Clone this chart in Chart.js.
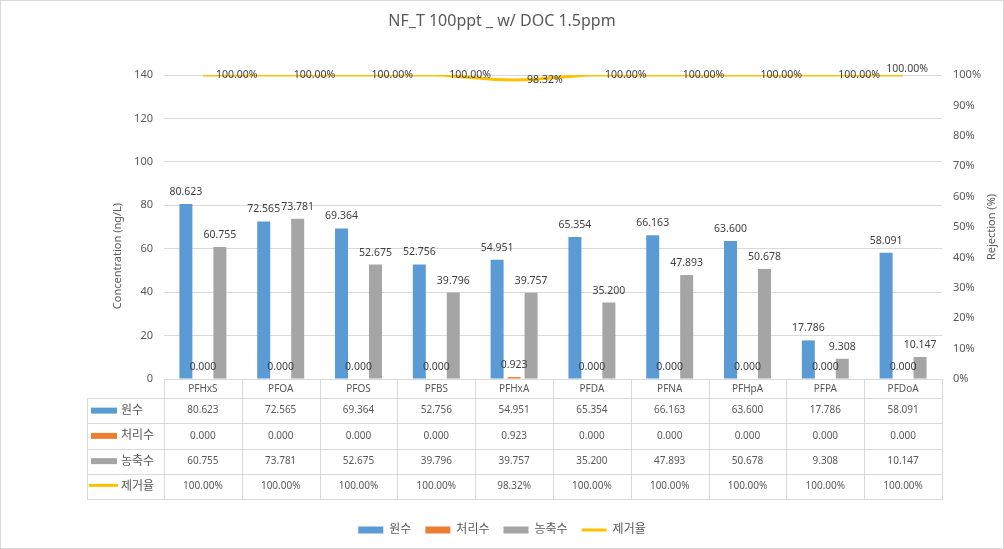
<!DOCTYPE html>
<html><head><meta charset="utf-8">
<script src="https://cdn.jsdelivr.net/npm/chart.js@4.4.0/dist/chart.umd.min.js"></script>
<style>
html,body{margin:0;padding:0;background:#fff;}
canvas{display:block}
</style></head><body>
<canvas id="c" width="1004" height="549"></canvas>
<script>
const categories = ['PFHxS','PFOA','PFOS','PFBS','PFHxA','PFDA','PFNA','PFHpA','PFPA','PFDoA'];
const rawWater = [80.623,72.565,69.364,52.756,54.951,65.354,66.163,63.600,17.786,58.091];
const treatedWater = [0.000,0.000,0.000,0.000,0.923,0.000,0.000,0.000,0.000,0.000];
const concentrate = [60.755,73.781,52.675,39.796,39.757,35.200,47.893,50.678,9.308,10.147];
const rejection = [100.00,100.00,100.00,100.00,98.32,100.00,100.00,100.00,100.00,100.00];
const seriesNames = ['원수','처리수','농축수','제거율'];
const chartTitle = 'NF_T 100ppt _ w/ DOC 1.5ppm';
const leftAxisTitle = 'Concentration (ng/L)';
const rightAxisTitle = 'Rejection (%)';

const FONT = "'Noto Sans', 'Noto Sans CJK KR', sans-serif";
const COLORS = ['#5B9BD5','#ED7D31','#A5A5A5','#FFC000'];
const TXT = '#595959';
const GRID = '#d9d9d9';

const overlay = {
  id: 'overlay',
  afterDatasetsDraw(chart) {
    const ctx = chart.ctx;
    ctx.save();
    ctx.font = '10.5px ' + FONT;
    ctx.fillStyle = '#404040';
    ctx.textBaseline = 'middle';
    ctx.textAlign = 'center';
    [0,1,2].forEach(di => {
      const meta = chart.getDatasetMeta(di);
      const data = chart.data.datasets[di].data;
      meta.data.forEach((bar, i) => {
        ctx.fillText(data[i].toFixed(3), bar.x, bar.y - 12);
      });
    });
    const lm = chart.getDatasetMeta(3);
    lm.data.forEach((pt, i) => {
      const txt = rejection[i].toFixed(2) + '%';
      if (i === lm.data.length - 1) {
        ctx.textAlign = 'center';
        ctx.fillText(txt, pt.x + 4, pt.y - 6);
      } else {
        ctx.textAlign = 'left';
        ctx.fillText(txt, pt.x + 13, pt.y);
      }
    });
    ctx.restore();
  },
  afterDraw(chart) {
    const ctx = chart.ctx;
    const area = chart.chartArea;
    const n = categories.length;
    const colW = (area.right - area.left) / n;
    const headerBottom = area.bottom + 19;
    const rowH = 25.25;
    const tableLeft = 87;
    const tableBottom = headerBottom + rowH * 4;
    ctx.save();
    ctx.strokeStyle = GRID;
    ctx.lineWidth = 1;
    ctx.beginPath();
    for (let k = 0; k <= n; k++) {
      const x = Math.round(area.left + k * colW) + 0.5;
      ctx.moveTo(x, area.bottom);
      ctx.lineTo(x, tableBottom);
    }
    ctx.moveTo(tableLeft + 0.5, headerBottom);
    ctx.lineTo(tableLeft + 0.5, tableBottom);
    for (let j = 0; j <= 4; j++) {
      const y = Math.round(headerBottom + j * rowH) + 0.5;
      ctx.moveTo(tableLeft, y);
      ctx.lineTo(Math.round(area.right) + 1, y);
    }
    ctx.stroke();

    const rows = [
      rawWater.map(v => v.toFixed(3)),
      treatedWater.map(v => v.toFixed(3)),
      concentrate.map(v => v.toFixed(3)),
      rejection.map(v => v.toFixed(2) + '%')
    ];
    ctx.textBaseline = 'middle';
    rows.forEach((row, r) => {
      const cy = headerBottom + rowH * r + rowH / 2;
      ctx.font = '10px ' + FONT;
      ctx.fillStyle = TXT;
      ctx.textAlign = 'center';
      row.forEach((t, i) => {
        ctx.fillText(t, area.left + (i + 0.5) * colW, cy);
      });
      if (r < 3) {
        ctx.fillStyle = COLORS[r];
        ctx.fillRect(91, cy - 3, 26, 6);
      } else {
        ctx.strokeStyle = COLORS[3];
        ctx.lineWidth = 3;
        ctx.beginPath();
        ctx.moveTo(89, cy - 1);
        ctx.lineTo(118, cy - 1);
        ctx.stroke();
      }
      ctx.font = '12px ' + FONT;
      ctx.fillStyle = TXT;
      ctx.textAlign = 'left';
      ctx.fillText(seriesNames[r], 121, cy);
    });

    ctx.font = '11px ' + FONT;
    ctx.fillStyle = TXT;
    ctx.textAlign = 'center';
    ctx.save();
    ctx.translate(118, 256);
    ctx.rotate(-Math.PI / 2);
    ctx.fillText(leftAxisTitle, 0, 0);
    ctx.restore();
    ctx.save();
    ctx.translate(992, 227);
    ctx.rotate(-Math.PI / 2);
    ctx.fillText(rightAxisTitle, 0, 0);
    ctx.restore();

    ctx.strokeStyle = GRID;
    ctx.lineWidth = 1;
    ctx.strokeRect(0.5, 0.5, chart.width - 1, chart.height - 1);
    ctx.restore();
  }
};

new Chart(document.getElementById('c'), {
  type: 'bar',
  data: {
    labels: categories,
    datasets: [
      { label: seriesNames[0], data: rawWater, backgroundColor: COLORS[0], borderWidth: 0, yAxisID: 'y', pointStyle: 'rect', order: 1 },
      { label: seriesNames[1], data: treatedWater, backgroundColor: COLORS[1], borderWidth: 0, yAxisID: 'y', pointStyle: 'rect', order: 1 },
      { label: seriesNames[2], data: concentrate, backgroundColor: COLORS[2], borderWidth: 0, yAxisID: 'y', pointStyle: 'rect', order: 1 },
      { label: seriesNames[3], data: rejection, type: 'line', borderColor: COLORS[3], backgroundColor: COLORS[3], borderWidth: 3, tension: 0.4, pointRadius: 0, pointStyle: 'line', yAxisID: 'y2', order: 0 }
    ]
  },
  options: {
    responsive: false,
    animation: false,
    layout: { padding: { left: 0, right: 0, top: 0, bottom: 3 } },
    datasets: { bar: { categoryPercentage: 0.655, barPercentage: 0.765 } },
    plugins: {
      title: { display: true, text: chartTitle, color: TXT, font: { family: FONT, size: 16, weight: 'normal' }, padding: { top: 12, bottom: 43.8 } },
      legend: {
        position: 'bottom',
        labels: {
          usePointStyle: true, pointStyleWidth: 25, boxHeight: 7, padding: 14, color: TXT,
          font: { family: FONT, size: 12 },
          sort: (a, b) => a.datasetIndex - b.datasetIndex
        }
      },
      tooltip: { enabled: false }
    },
    scales: {
      x: {
        grid: { display: false, drawTicks: false },
        border: { display: true, color: GRID },
        ticks: { color: TXT, font: { family: FONT, size: 10 }, padding: 4, maxRotation: 0 },
        afterFit: s => { s.height = 131; }
      },
      y: {
        position: 'left', min: 0, max: 140,
        ticks: { stepSize: 20, color: TXT, font: { family: FONT, size: 11 }, padding: 11 },
        grid: { color: GRID, drawTicks: false },
        border: { display: false },
        afterFit: s => { s.width = 164; }
      },
      y2: {
        position: 'right', min: 0, max: 100,
        ticks: { stepSize: 10, color: TXT, font: { family: FONT, size: 11 }, padding: 11, callback: v => v + '%' },
        grid: { display: false, drawTicks: false },
        border: { display: false },
        afterFit: s => { s.width = 62; }
      }
    }
  },
  plugins: [overlay]
});
</script>
</body></html>
